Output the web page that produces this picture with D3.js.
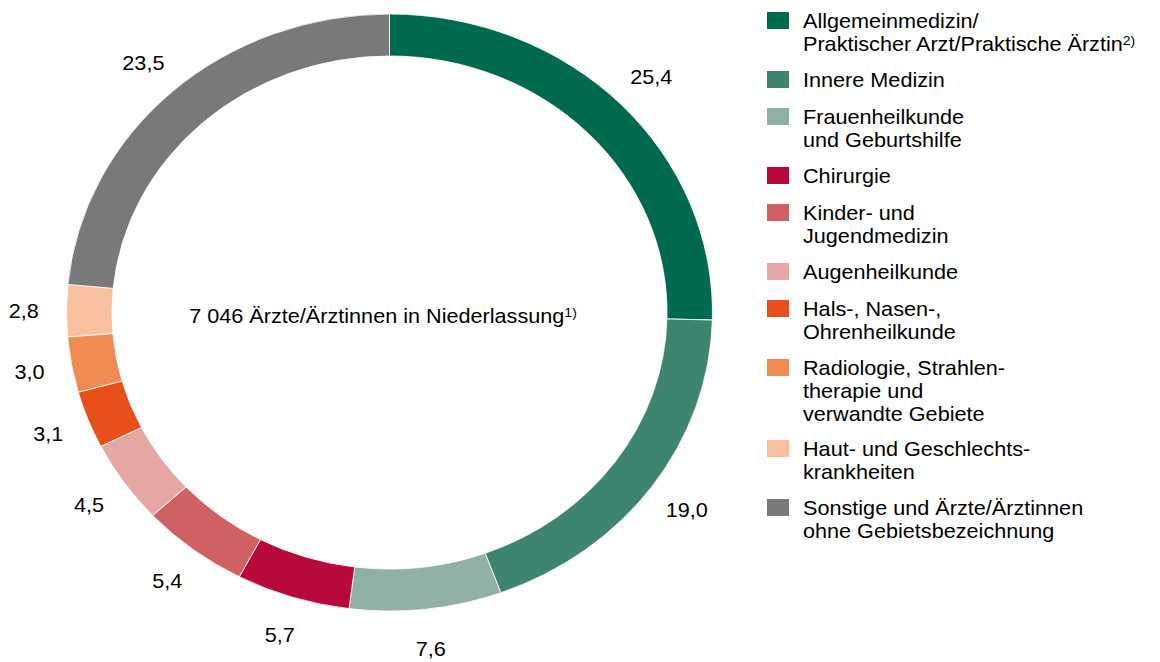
<!DOCTYPE html>
<html>
<head>
<meta charset="utf-8">
<script src="https://cdn.jsdelivr.net/npm/d3@7"></script>
<style>
  body { margin: 0; background: #fff; }
  svg text { font-family: "Liberation Sans", Arial, sans-serif; fill: #000; }
</style>
</head>
<body>
<div id="chart"></div>
<script>
// Ärzte/Ärztinnen in Niederlassung nach Fachgebiet, Anteile in %
var categories = [
  ["Allgemeinmedizin/", "Praktischer Arzt/Praktische Ärztin"],
  ["Innere Medizin"],
  ["Frauenheilkunde", "und Geburtshilfe"],
  ["Chirurgie"],
  ["Kinder- und", "Jugendmedizin"],
  ["Augenheilkunde"],
  ["Hals-, Nasen-,", "Ohrenheilkunde"],
  ["Radiologie, Strahlen-", "therapie und", "verwandte Gebiete"],
  ["Haut- und Geschlechts-", "krankheiten"],
  ["Sonstige und Ärzte/Ärztinnen", "ohne Gebietsbezeichnung"]
];
var shares = [25.4, 19.0, 7.6, 5.7, 5.4, 4.5, 3.1, 3.0, 2.8, 23.5];
var colors = ["#006a4f", "#3e8571", "#8fb0a2", "#b8093b", "#d06062",
              "#e5a7a3", "#e84f1b", "#ef8b53", "#f8c09e", "#78797b"];
var footnotes = ["2)", null, null, null, null, null, null, null, null, null];
var totalDoctors = 7046;

var W = 1160, H = 662;
// the original picture is stretched a bit horizontally
var SX = 1.082;
var cx = 389.5 / SX, cy = 312.5;
var rOuter = 298.5, rInner = 256.5, rLabel = 338;

var de = d3.formatLocale({decimal: ",", thousands: " ", grouping: [3], currency: ["", " €"]});
var fmtShare = de.format(".1f");
var fmtTotal = de.format(",d");

var svg = d3.select("#chart").append("svg")
    .attr("width", W).attr("height", H);
var g = svg.append("g").attr("transform", "scale(" + SX + ",1)");

var pie = d3.pie().sort(null).value(function(d) { return d; });
var arcs = pie(shares);
var arc = d3.arc().innerRadius(rInner).outerRadius(rOuter);
var labelArc = d3.arc().innerRadius(rLabel).outerRadius(rLabel);

var ring = g.append("g").attr("transform", "translate(" + cx + "," + cy + ")");
ring.selectAll("path")
    .data(arcs)
    .enter().append("path")
    .attr("d", arc)
    .attr("fill", function(d, i) { return colors[i]; })
    .attr("stroke", "#fff")
    .attr("stroke-width", 0.8);

ring.selectAll("text.val")
    .data(arcs)
    .enter().append("text")
    .attr("class", "val")
    .attr("transform", function(d) { return "translate(" + labelArc.centroid(d) + ")"; })
    .attr("text-anchor", "middle")
    .attr("dy", "0.36em")
    .style("font-size", "20px")
    .text(function(d) { return fmtShare(d.data); });

// text in the middle of the ring
var mid = ring.append("text")
    .attr("x", -6).attr("y", 10)
    .attr("text-anchor", "middle")
    .style("font-size", "20px");
mid.append("tspan").text(fmtTotal(totalDoctors) + " Ärzte/Ärztinnen in Niederlassung");
mid.append("tspan").attr("dy", "-0.45em").style("font-size", "13px").text("1)");

// legend
var lgX = 767 / SX, lgTextX = 803 / SX, lgTop = 12, lineH = 23;
var legend = g.append("g");
var yPos = lgTop;
categories.forEach(function(lines, i) {
  var row = legend.append("g").attr("transform", "translate(0," + yPos + ")");
  row.append("rect")
      .attr("x", lgX).attr("y", 0)
      .attr("width", 22 / SX).attr("height", 17)
      .attr("fill", colors[i]);
  var t = row.append("text").style("font-size", "20px");
  lines.forEach(function(line, j) {
    t.append("tspan").attr("x", lgTextX).attr("y", 16 + j * lineH).text(line);
    if (j === lines.length - 1 && footnotes[i]) {
      t.append("tspan").attr("dy", "-0.45em").style("font-size", "13px").text(footnotes[i]);
    }
  });
  yPos += 15 + 22 * lines.length;
});
</script>
</body>
</html>
